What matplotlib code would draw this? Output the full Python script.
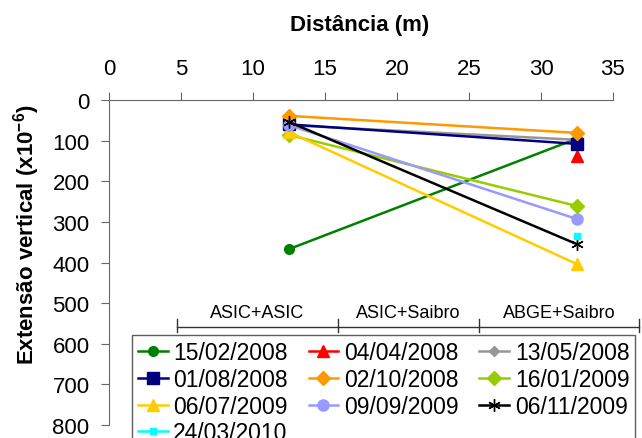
import matplotlib
matplotlib.use("Agg")
import matplotlib.pyplot as plt

plt.rcParams['font.family'] = ['Liberation Sans', 'DejaVu Sans']
plt.rcParams['mathtext.fontset'] = 'custom'
plt.rcParams['mathtext.rm'] = 'Liberation Sans'
plt.rcParams['mathtext.bf'] = 'Liberation Sans:bold'

# distances (m) of the two measuring points
X_POS = [12.5, 32.5]

DATES = ["15/02/2008", "04/04/2008", "13/05/2008", "01/08/2008", "02/10/2008",
         "16/01/2009", "06/07/2009", "09/09/2009", "06/11/2009", "24/03/2010"]

# vertical extension (x10^-6) at 12.5 m and 32.5 m; None = no reading
EXT_12 = [367, None, 62, 60, 39, 86, 79, 62, 54, None]
EXT_32 = [95, 138, 98, 108, 81, 261, 404, 293, 355, 335]

COLORS = ["#008000", "#FF0000", "#969696", "#000080", "#FF9900",
          "#99CC00", "#FFCC00", "#9999FF", "#000000", "#00FFFF"]
MARKERS = ["o", "^", "D", "s", "D", "D", "^", "o", (6, 2, 0), "s"]
MSIZES = [7, 8, 5, 8, 7, 7, 8, 8, 9, 5]

# soil sections along the profile
GROUP_NAMES = ["ASIC+ASIC", "ASIC+Saibro", "ABGE+Saibro"]
GROUP_EDGES = [4.72, 15.9, 25.7, 36.8]

fig = plt.figure(figsize=(6.42, 4.39), dpi=100)
ax = fig.add_axes([0.1698, 0.0296, 0.785, 0.7403])

handles = []
for i, lab in enumerate(DATES):
    xs, ys = [], []
    for x, v in zip(X_POS, [EXT_12[i], EXT_32[i]]):
        if v is not None:
            xs.append(x); ys.append(v)
    h, = ax.plot(xs, ys, color=COLORS[i], marker=MARKERS[i], markersize=MSIZES[i],
                 lw=1.8, mec=COLORS[i], label=lab, clip_on=False, zorder=3 + i * 0.1)
    handles.append(h)

ax.set_xlim(0, 35)
ax.set_ylim(800, 0)
ax.set_xticks(range(0, 36, 5))
ax.set_yticks(range(0, 801, 100))
ax.xaxis.tick_top()
for s in ["right", "bottom"]:
    ax.spines[s].set_visible(False)
for s in ["left", "top"]:
    ax.spines[s].set_color("#666666")
ax.tick_params(axis="x", direction="out", length=6, color="#666666", labelsize=16, pad=9)
ax.tick_params(axis="y", direction="out", length=6, color="#666666", labelsize=16, pad=8)

# section brackets
yb = 558
ax.plot([GROUP_EDGES[0], GROUP_EDGES[-1]], [yb, yb], color="#333333", lw=1, clip_on=False)
for e in GROUP_EDGES:
    ax.plot([e, e], [538, 572], color="#333333", lw=1, clip_on=False)
for k, name in enumerate(GROUP_NAMES):
    ax.text((GROUP_EDGES[k] + GROUP_EDGES[k + 1]) / 2, 523, name, ha="center",
            va="center", fontsize=13, clip_on=False)

fig.text(360 / 642, 1 - 25 / 439, "Distância (m)", ha="center", va="center",
         fontsize=16, fontweight="bold")
fig.text(27 / 642, 1 - 235 / 439, "Extensão vertical (x10$\\mathbf{^{-6}}$)", ha="center",
         va="center", rotation=90, fontsize=16, fontweight="bold")

order = [0, 3, 6, 9, 1, 4, 7, 2, 5, 8]
leg = fig.legend([handles[i] for i in order], [DATES[i] for i in order],
                 loc="upper left", bbox_to_anchor=(132 / 642, 1 - 336 / 439),
                 ncol=3, fontsize=16.5, frameon=True, fancybox=False,
                 borderaxespad=0, borderpad=0.25, labelspacing=0.17,
                 handlelength=1.3, handletextpad=0.25, columnspacing=0.9,
                 markerscale=1.0)
leg.get_frame().set_edgecolor("#333333")
leg.get_frame().set_linewidth(1)

fig.savefig("out.png", dpi=100)
